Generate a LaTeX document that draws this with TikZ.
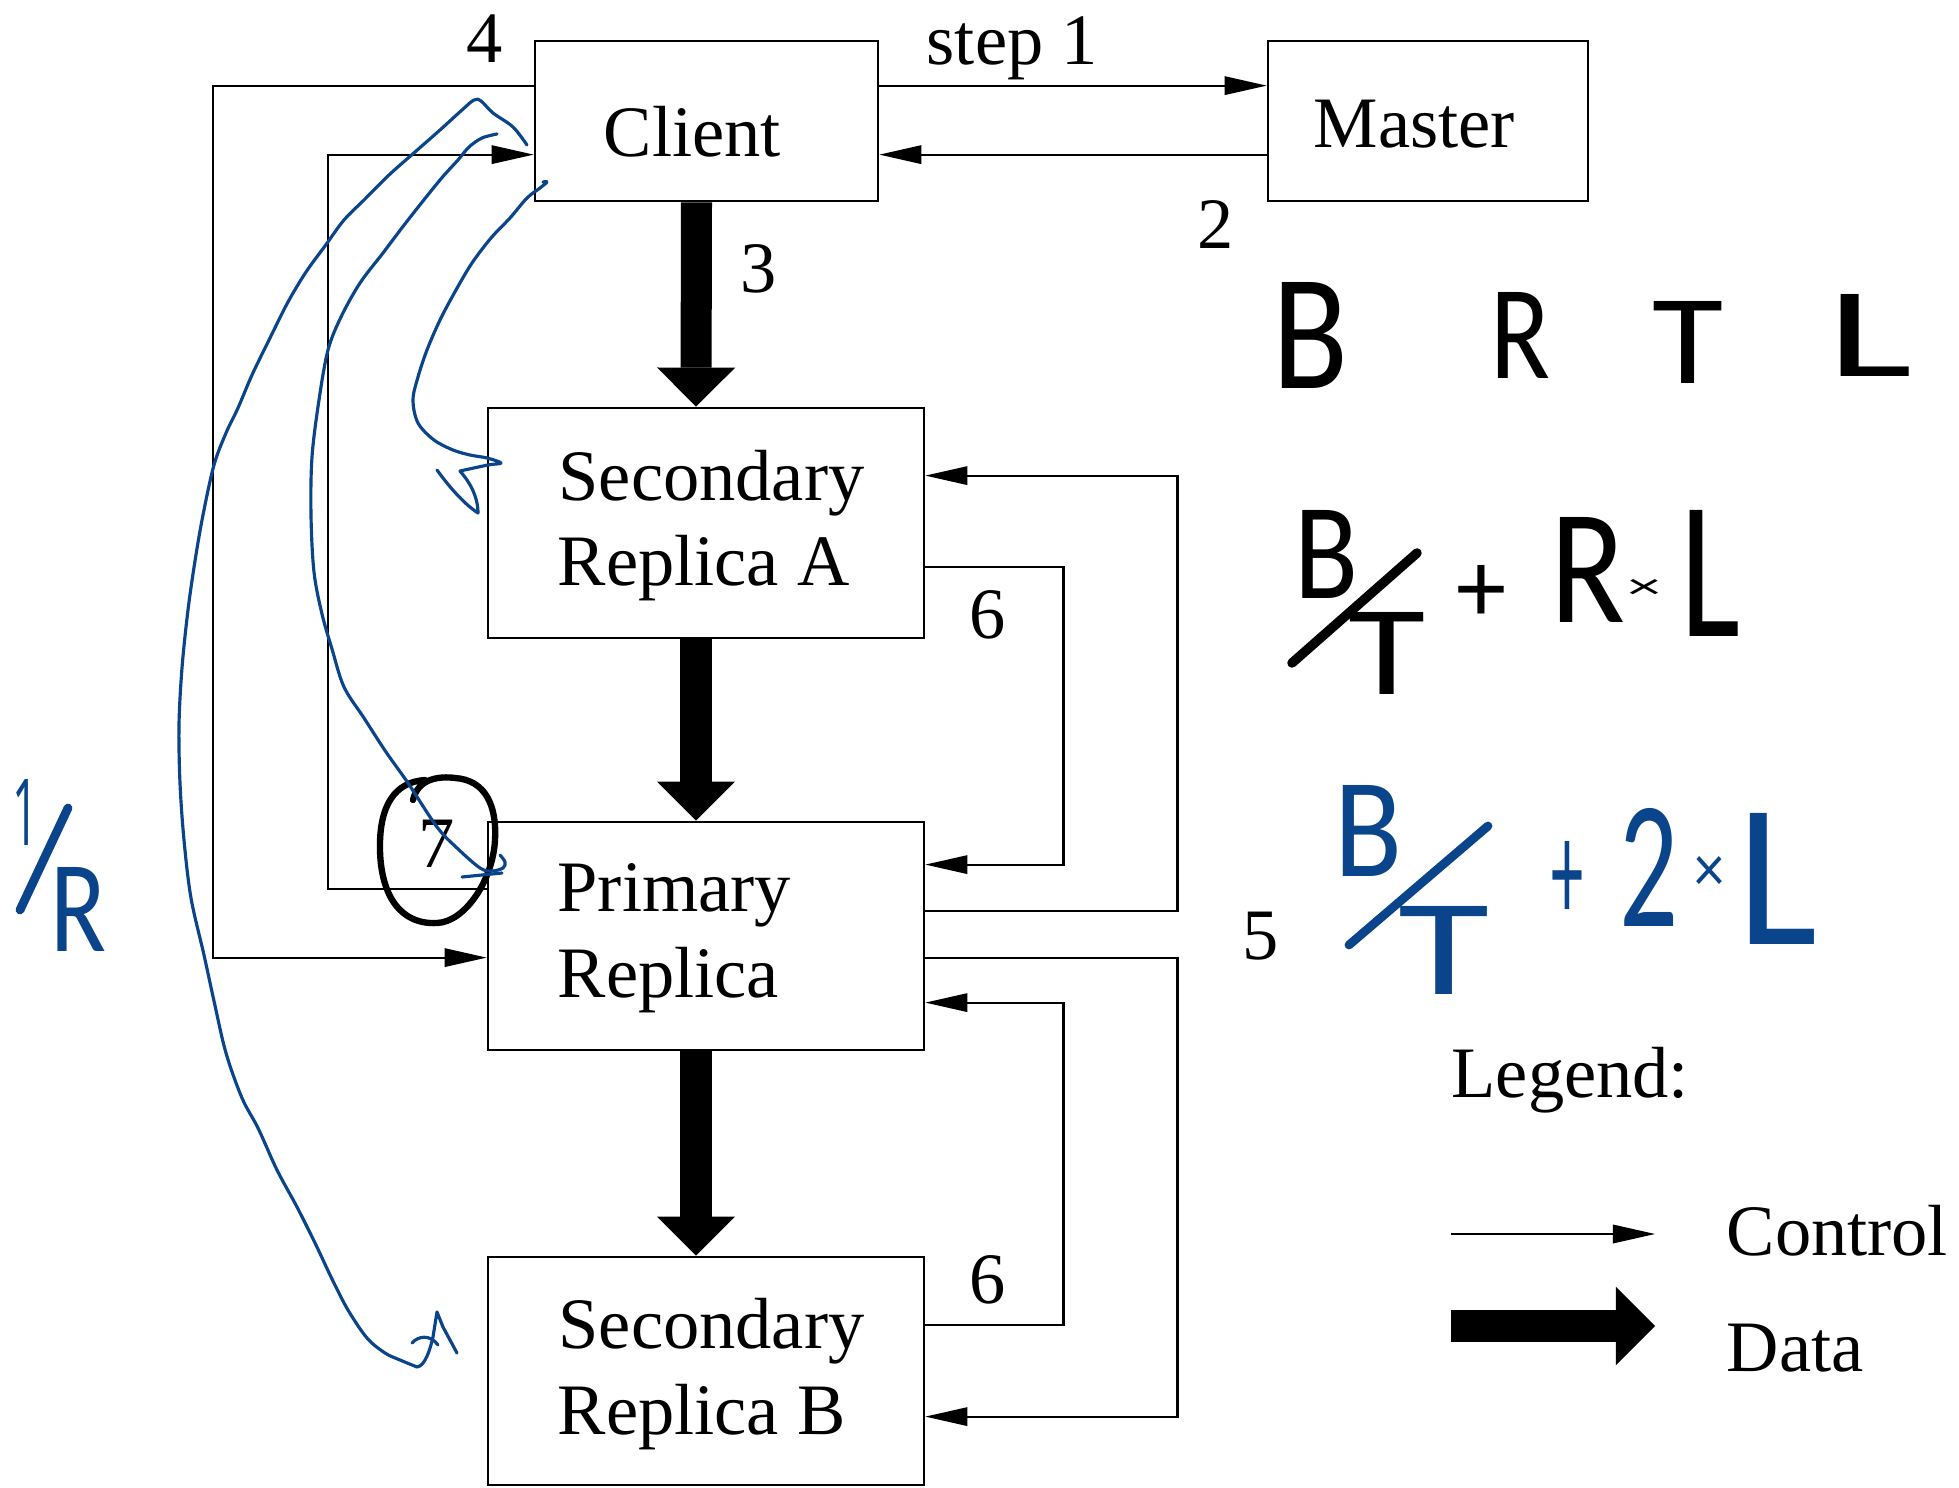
\documentclass[tikz,border=0pt]{standalone}
\usepackage{fontspec}
\setmainfont{Liberation Serif}
\newfontfamily\handfont{Carlito}
\newfontfamily\handone{Open Sans}
\usepackage{graphicx}
\usetikzlibrary{arrows.meta,calc}
\definecolor{inkblue}{RGB}{10,68,138}
\newcommand\handglyph[3]{\resizebox*{#1}{#2}{\handfont #3}}
\begin{document}
\begin{tikzpicture}[x=0.01cm,y=-0.01cm,
  box/.style={draw, line width=0.75pt, inner sep=0pt},
  lbl/.style={font=\fontsize{20.6pt}{24pt}\selectfont, inner sep=0pt, anchor=base},
  lblw/.style={lbl, anchor=base west},
  ctrl/.style={line width=0.6pt, -{Triangle[length=0.42cm,width=0.19cm,line width=0pt]}},
  data/.style={line width=0.31cm, -{Triangle[length=0.39cm,width=0.78cm,line width=0pt]}},
  hand/.style={inner sep=0pt, anchor=north west},
  ink/.style={inkblue, line width=0.9pt, line cap=round, line join=round},
  slashblack/.style={line width=2.7pt, line cap=round},
  slashblue/.style={inkblue, line width=2.5pt, line cap=round}]
\useasboundingbox (0,0) rectangle (1959,1488);

% boxes
\node[box, minimum width=3.43cm, minimum height=1.6cm] (client) at (706.5,121) {};
\node[box, minimum width=3.2cm, minimum height=1.6cm] (master) at (1428,121) {};
\node[box, minimum width=4.36cm, minimum height=2.3cm] (secA) at (706,523) {};
\node[box, minimum width=4.36cm, minimum height=2.28cm] (primary) at (706,936) {};
\node[box, minimum width=4.36cm, minimum height=2.28cm] (secB) at (706,1371) {};

% box texts
\node[lblw] (tclient) at (603,157) {Client};
\node[lblw] (tmaster) at (1313,148) {Master};
\node[lblw] (tsecA1) at (558,501) {Secondary};
\node[lblw] (tsecA2) at (557,586) {Replica A};
\node[lblw] (tprim1) at (557,912) {Primary};
\node[lblw] (tprim2) at (557,998) {Replica};
\node[lblw] (tsecB1) at (558,1348) {Secondary};
\node[lblw] (tsecB2) at (557,1434) {Replica B};

% control connectors
\draw[ctrl] ($(client.north east)+(0,46)$) -- ($(master.north west)+(0,46)$);
\draw[ctrl] ($(master.north west)+(0,115)$) -- ($(client.north east)+(0,115)$);
\draw[ctrl] ($(client.north west)+(0,46)$) -| ($(primary.north west)+(-274,137)$) -- ($(primary.north west)+(0,137)$);
\draw[ctrl] ($(primary.north west)+(0,68)$) -| ($(client.north west)+(-206,115)$) -- ($(client.north west)+(0,115)$);
\draw[ctrl] ($(primary.north east)+(0,90)$) -| ($(secA.north east)+(252,69)$) -- ($(secA.north east)+(0,69)$);
\draw[ctrl] ($(primary.north east)+(0,137)$) -| ($(secB.north east)+(252,161)$) -- ($(secB.north east)+(0,161)$);
\draw[ctrl] ($(secA.north east)+(0,160)$) -| ($(primary.north east)+(138,44)$) -- ($(primary.north east)+(0,44)$);
\draw[ctrl] ($(secB.north east)+(0,69)$) -| ($(primary.north east)+(138,182)$) -- ($(primary.north east)+(0,182)$);

% data connectors
\draw[data] ($(client.south)+(-10,0)$) -- ($(secA.north)+(-10,0)$);
\draw[data] ($(secA.south)+(-10,0)$) -- ($(primary.north)+(-10,0)$);
\draw[data] ($(primary.south)+(-10,0)$) -- ($(secB.north)+(-10,0)$);

% step labels
\node[lblw] (lstep1) at (926,65) {step 1};
\node[lbl] (l2) at (1216,249) {2};
\node[lbl] (l3) at (759,293) {3};
\node[lbl] (l4) at (485,63) {4};
\node[lbl] (l5) at (1261,959) {5};
\node[lbl] (l6a) at (988,639) {6};
\node[lbl] (l6b) at (988,1303) {6};
\node[lbl] (l7) at (437,867) {7};

% legend
\node[lblw] (legend) at (1451,1097) {Legend:};
\coordinate (lgc1) at (1451,1234);
\coordinate (lgc2) at (1655,1234);
\draw[ctrl] (lgc1) -- (lgc2);
\node[lblw] (lcontrol) at (1726,1255) {Control};
\coordinate (lgd1) at (1451,1326);
\coordinate (lgd2) at (1655,1326);
\draw[data] (lgd1) -- (lgd2);
\node[lblw] (ldata) at (1726,1371) {Data};

% handwritten black: B R T L
\node[hand] (hB) at (1272,282) {\handglyph{0.76cm}{1.06cm}{B}};
\node[hand] (hR) at (1490,292) {\handglyph{0.6cm}{0.86cm}{R}};
\node[hand] (hT) at (1652,301) {\handglyph{0.71cm}{0.82cm}{T}};
\node[hand] (hL) at (1827,294) {\handglyph{0.85cm}{0.82cm}{L}};

% handwritten black formula
\node[hand] (fB) at (1294,510) {\handglyph{0.64cm}{0.88cm}{B}};
\draw[slashblack] (1292,663) -- (1417,553);
\node[hand] (fT) at (1348,612) {\handglyph{0.77cm}{0.82cm}{T}};
\node[hand] (fplus) at (1456,565) {\handglyph{0.5cm}{0.57cm}{+}};
\node[hand] (fR) at (1550,517) {\handglyph{0.75cm}{1.05cm}{R}};
\node[hand] (ftimes) at (1627,579) {\handglyph{0.33cm}{0.19cm}{×}};
\node[hand] (fL) at (1680,510) {\handglyph{0.6cm}{1.26cm}{L}};

% handwritten blue formula
\node[hand] (gB) at (1334,785) {\handglyph{0.68cm}{0.91cm}{\color{inkblue}B}};
\draw[slashblue] (1349,945) -- (1488,826);
\node[hand] (gT) at (1398,906) {\handglyph{0.91cm}{0.88cm}{\color{inkblue}T}};
\node[hand] (gplus) at (1551,841) {\handglyph{0.32cm}{0.8cm}{\color{inkblue}+}};
\node[hand] (g2) at (1619,808) {\handglyph{0.59cm}{1.18cm}{\color{inkblue}2}};
\node[hand] (gtimes) at (1694,856) {\handglyph{0.3cm}{0.35cm}{\color{inkblue}×}};
\node[hand] (gL) at (1737,813) {\handglyph{0.8cm}{1.31cm}{\color{inkblue}L}};

% handwritten blue 1/R
\node[hand] (r1) at (12,779) {\resizebox*{0.26cm}{0.66cm}{\handone\color{inkblue}1}};
\draw[slashblue] (68,808) -- (20,910);
\node[hand] (rR) at (50,867) {\handglyph{0.56cm}{0.84cm}{\color{inkblue}R}};

% circle around 7
\draw[line width=1.8pt, line cap=round] (413,800) .. controls (418,778) and (440,776) .. (455,778)
  .. controls (485,780) and (497,805) .. (495,840)
  .. controls (493,880) and (465,922) .. (437,923)
  .. controls (400,925) and (381,895) .. (380,850)
  .. controls (379,805) and (395,782) .. (425,780);

% blue annotation curves
\draw[ink] plot[smooth, tension=0.55] coordinates {(527,145) (513,127) (493,113) (481,101) (474,100) (462,110) (440,130) (415,152) (389,175) (364,200) (344,220) (325,246) (306,272) (288,302) (270,338) (252,375) (238,408) (226,433) (214,465) (203,515) (195,561) (188,610) (182,668) (179,725) (180,783) (184,840) (191,898) (204,955) (214,1001) (226,1053) (242,1098) (258,1128) (277,1170) (297,1207) (316,1245) (332,1279) (348,1310) (367,1338) (385,1353) (400,1360) (417,1367)};
\draw[ink] (417,1367) .. controls (425,1366) and (430,1350) .. (433,1337) -- (437,1312) -- (443,1327) -- (457,1353);
\draw[ink] (412,1343) .. controls (418,1336) and (430,1334) .. (438,1345);

\draw[ink] plot[smooth, tension=0.55] coordinates {(497,134) (482,138) (469,147) (458,160) (440,180) (408,220) (383,253) (360,283) (341,317) (328,350) (319,400) (312,457) (311,515) (314,572) (322,614) (332,649) (344,687) (364,718) (386,752) (408,783) (437,827) (457,848) (480,868) (492,871) (503,868) (505,862) (500,855)};
\draw[ink] (462,877) -- (502,873);

\draw[ink] plot[smooth, tension=0.55] coordinates {(543,182) (547,182) (540,188) (527,198) (510,218) (491,238) (472,263) (456,290) (440,320) (427,350) (418,377) (413,400) (418,423) (434,440) (453,450) (470,455) (487,458) (501,463) (488,465) (460,471)};
\draw[ink] (460,471) .. controls (468,480) and (478,495) .. (478,513) .. controls (470,508) and (455,495) .. (437,470);

\end{tikzpicture}
\end{document}
